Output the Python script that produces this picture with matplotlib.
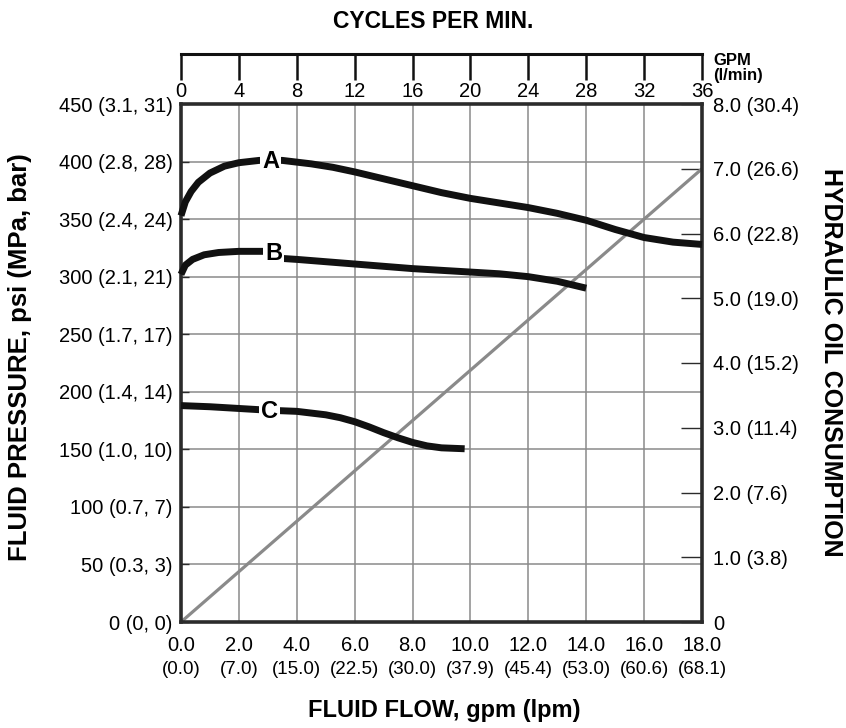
import numpy as np
import matplotlib
matplotlib.use("Agg")
import matplotlib.pyplot as plt
import matplotlib.transforms as mtransforms

plt.rcParams['font.family'] = ['Liberation Sans', 'DejaVu Sans']

# fluid flow, gpm
flow_ticks = [0, 2, 4, 6, 8, 10, 12, 14, 16, 18]
flow_gpm_labels = ['0.0', '2.0', '4.0', '6.0', '8.0', '10.0', '12.0', '14.0', '16.0', '18.0']
flow_lpm_labels = ['(0.0)', '(7.0)', '(15.0)', '(22.5)', '(30.0)', '(37.9)', '(45.4)', '(53.0)', '(60.6)', '(68.1)']

# fluid pressure, psi
psi_ticks = [0, 50, 100, 150, 200, 250, 300, 350, 400, 450]
psi_labels = ['0 (0, 0)', '50 (0.3, 3)', '100 (0.7, 7)', '150 (1.0, 10)', '200 (1.4, 14)',
              '250 (1.7, 17)', '300 (2.1, 21)', '350 (2.4, 24)', '400 (2.8, 28)', '450 (3.1, 31)']

# hydraulic oil consumption, GPM
oil_ticks = [0, 1, 2, 3, 4, 5, 6, 7, 8]
oil_labels = ['0', '1.0 (3.8)', '2.0 (7.6)', '3.0 (11.4)', '4.0 (15.2)', '5.0 (19.0)',
              '6.0 (22.8)', '7.0 (26.6)', '8.0 (30.4)']

# cycles per minute
cycle_ticks = [0, 4, 8, 12, 16, 20, 24, 28, 32, 36]

# performance curves (flow gpm, pressure psi)
a_flow = [0, 0.15, 0.35, 0.6, 1.0, 1.5, 2.0, 2.7, 3.5, 4.5, 5.25, 6, 7, 8, 9, 10, 11, 12, 13, 14, 15, 16, 17, 18]
a_psi = [353, 365, 374, 382, 390, 396, 399, 401, 401, 398, 395, 391, 385, 379, 373, 368, 364, 360, 355, 349, 341, 334, 330, 328]

b_flow = [0, 0.15, 0.4, 0.8, 1.3, 2.0, 2.9, 3.4, 4, 6, 8, 10, 11, 12, 13, 14]
b_psi = [302, 310, 315, 319, 321, 322, 322, 316, 315, 311, 307, 304, 302.5, 300, 296, 290]

c_flow = [0, 1, 2, 3, 4, 5, 5.5, 6, 6.5, 7, 7.5, 8, 8.5, 9, 9.8]
c_psi = [188, 187, 185.5, 184, 183, 180, 177.5, 174, 169.5, 164.5, 160, 156, 153, 151.3, 150.5]

# hydraulic oil consumption line (flow gpm, oil gpm)
oil_flow = [0, 18]
oil_gpm = [0, 7.0]

curve_labels = [('A', 3.1, 400), ('B', 3.2, 320), ('C', 3.05, 183)]

W, H = 846, 728
fig = plt.figure(figsize=(W / 100, H / 100), dpi=100)
left, right, top, bottom = 181, 702, 104, 622
ax = fig.add_axes([left / W, 1 - bottom / H, (right - left) / W, (bottom - top) / H])

spine_col = '#2b2b2b'
grid_col = '#8a8a8a'
tick_fs = 14.5

ax.set_xlim(0, 18)
ax.set_ylim(0, 450)
ax.set_xticks(flow_ticks)
ax.set_xticklabels(flow_gpm_labels, fontsize=tick_fs)
ax.set_yticks(psi_ticks)
ax.set_yticklabels(psi_labels, fontsize=tick_fs)
ax.tick_params(axis='x', length=0, pad=10)
ax.tick_params(axis='y', direction='in', length=6, width=1, color=spine_col, pad=6)
ax.grid(True, color=grid_col, lw=1.1)
ax.set_axisbelow(True)
for s in ax.spines.values():
    s.set_color(spine_col)
    s.set_linewidth(2.6)

# second row of flow labels (lpm)
trans = mtransforms.blended_transform_factory(ax.transData, ax.transAxes)
for x, lab in zip(flow_ticks, flow_lpm_labels):
    ax.text(x, -0.075, lab, transform=trans, ha='center', va='top', fontsize=13.5)

for xs, ys in [(a_flow, a_psi), (b_flow, b_psi), (c_flow, c_psi)]:
    ax.plot(xs, ys, color='#111111', lw=5.0, solid_capstyle='butt', solid_joinstyle='round',
            zorder=4, clip_on=False)

for name, x, y in curve_labels:
    ax.text(x, y, name, fontsize=17, fontweight='bold', ha='center', va='center', zorder=6,
            bbox=dict(boxstyle='square,pad=0.08', fc='white', ec='none'))

# right axis: hydraulic oil consumption
ax2 = ax.twinx()
ax2.set_ylim(0, 8)
ax2.set_yticks(oil_ticks)
ax2.set_yticklabels(oil_labels, fontsize=tick_fs)
ax2.tick_params(axis='y', direction='in', length=15, width=1, color=spine_col, pad=8)
for s in ax2.spines.values():
    s.set_visible(False)
ax2.plot(oil_flow, oil_gpm, color=grid_col, lw=2.3, zorder=3)
ax.set_zorder(ax2.get_zorder() + 1)
ax.patch.set_visible(False)

# top scale: cycles per minute
axt = fig.add_axes([left / W, 1 - 54 / H, (right - left) / W, 0.001])
axt.set_xlim(0, 36)
axt.set_xticks(cycle_ticks)
axt.set_xticklabels([str(c) for c in cycle_ticks], fontsize=tick_fs)
axt.set_yticks([])
axt.patch.set_visible(False)
for k in ['top', 'left', 'right']:
    axt.spines[k].set_visible(False)
axt.spines['bottom'].set_linewidth(2.2)
axt.spines['bottom'].set_color('#111111')
axt.tick_params(axis='x', direction='out', length=19, width=1.8, color='#111111', pad=1.5)

# axis titles
fig.text(433 / W, 1 - 22 / H, 'CYCLES PER MIN.', fontsize=16.5, fontweight='bold',
         ha='center', va='center')
fig.text(713 / W, 1 - 68 / H, 'GPM\n(l/min)', fontsize=12, fontweight='bold',
         ha='left', va='center', linespacing=0.95)
fig.text(444 / W, 1 - 711 / H, 'FLUID FLOW, gpm (lpm)', fontsize=17, fontweight='bold',
         ha='center', va='center')
fig.text(20 / W, 1 - 357 / H, 'FLUID PRESSURE, psi (MPa, bar)', fontsize=18.5,
         fontweight='bold', rotation=90, ha='center', va='center')
fig.text(831 / W, 1 - 362 / H, 'HYDRAULIC OIL CONSUMPTION', fontsize=18,
         fontweight='bold', rotation=-90, ha='center', va='center')

fig.savefig('out.png', dpi=100)
